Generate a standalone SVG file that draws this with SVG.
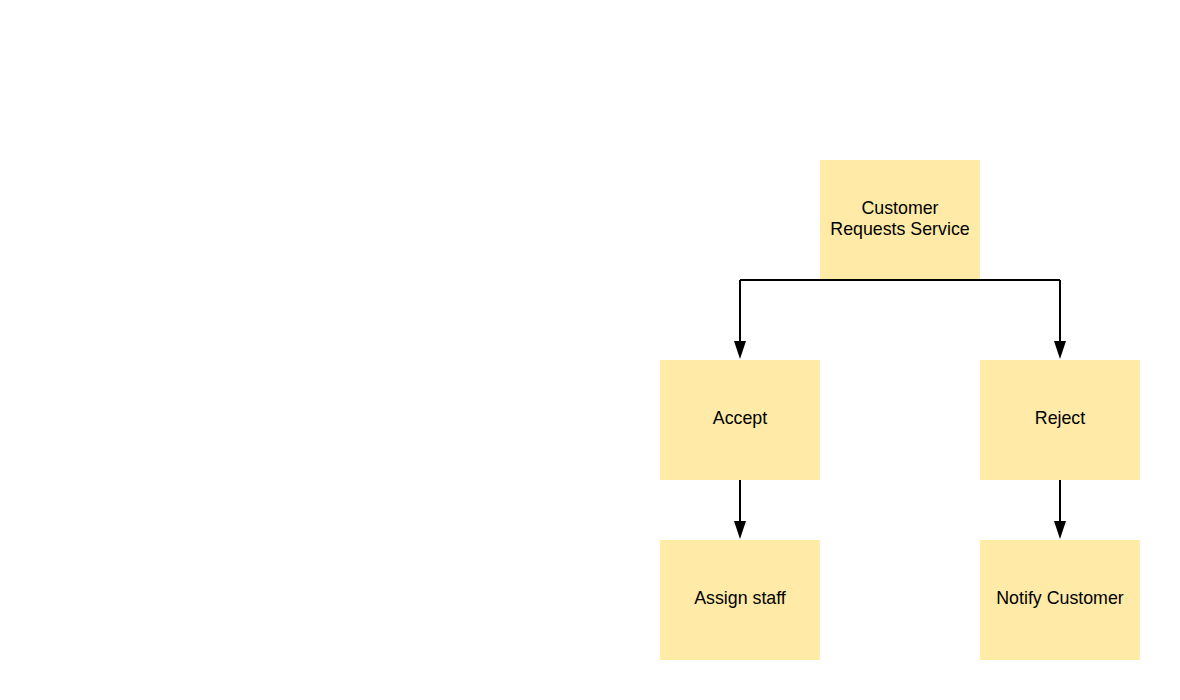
<svg xmlns="http://www.w3.org/2000/svg" width="1180" height="700" viewBox="0 0 1180 700">
<style>
.node{fill:#ffeaa7;}
.lbl{font-family:"Liberation Sans",Arial,sans-serif;font-size:17.8px;fill:#000;text-anchor:middle;}
.edge{fill:none;stroke:#000;stroke-width:2;}
.head{fill:#000;}
</style>
<rect width="1180" height="700" fill="#fff"/>
<g id="n1"><rect class="node" x="820" y="160" width="160" height="120"/><text class="lbl" x="900" y="214">Customer</text><text class="lbl" x="900" y="234.5">Requests Service</text></g>
<g id="n2"><rect class="node" x="660" y="360" width="160" height="120"/><text class="lbl" x="740" y="424">Accept</text></g>
<g id="n3"><rect class="node" x="980" y="360" width="160" height="120"/><text class="lbl" x="1060" y="424">Reject</text></g>
<g id="n4"><rect class="node" x="660" y="540" width="160" height="120"/><text class="lbl" x="740" y="604">Assign staff</text></g>
<g id="n5"><rect class="node" x="980" y="540" width="160" height="120"/><text class="lbl" x="1060" y="604">Notify Customer</text></g>
<g id="edges">
<path class="edge" d="M740,280 L1060,280"/>
<path class="edge" d="M740,280 L740,342"/>
<path class="head" d="M734,341 L746,341 L740,359 Z"/>
<path class="edge" d="M1060,280 L1060,342"/>
<path class="head" d="M1054,341 L1066,341 L1060,359 Z"/>
<path class="edge" d="M740,480 L740,522"/>
<path class="head" d="M734,521 L746,521 L740,539 Z"/>
<path class="edge" d="M1060,480 L1060,522"/>
<path class="head" d="M1054,521 L1066,521 L1060,539 Z"/>
</g>
</svg>
